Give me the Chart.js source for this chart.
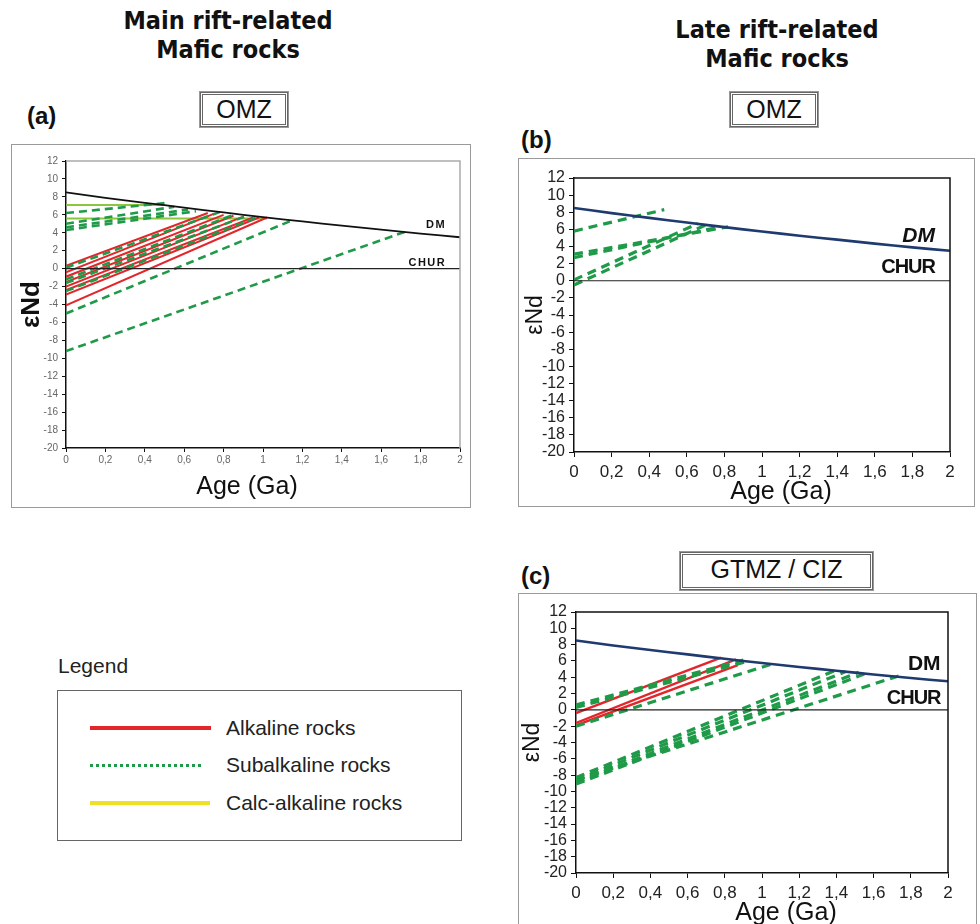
<!DOCTYPE html>
<html>
<head>
<meta charset="utf-8">
<script src="https://cdn.jsdelivr.net/npm/chart.js@4.4.1/dist/chart.umd.min.js"></script>
<style>
  body { margin: 0; background: #fff; width: 980px; height: 924px; position: relative; overflow: hidden; font-family: 'Liberation Sans', Arial, sans-serif; }
  .abs { position: absolute; }
  .head { font-family: 'Liberation Sans Narrow', 'DejaVu Sans Condensed', 'Liberation Sans', sans-serif; font-weight: bold; font-size: 25px; text-align: center; line-height: 29px; color: #111; }
  .tag { font-family: 'Liberation Sans Narrow', 'Liberation Sans', sans-serif; font-weight: bold; font-size: 24px; color: #111; }
  .zone { border: 3px double #666; outline: 1px solid #999; text-align: center; font-family: 'Liberation Sans Narrow', 'Liberation Sans', sans-serif; font-size: 25px; line-height: 29px; color: #111; box-sizing: border-box; }
  canvas.panel { position: absolute; outline: 1.5px solid #9a9a9a; outline-offset: -1px; }
  .leg-line { position: absolute; height: 0; }
  .leg-text { position: absolute; font-size: 21px; color: #222; line-height: 24px; }
</style>
</head>
<body>

<div class="abs head" style="left:118px; top:6px; width:220px;">Main rift-related<br>Mafic rocks</div>
<div class="abs head" style="left:667px; top:15px; width:220px;">Late rift-related<br>Mafic rocks</div>

<div class="abs tag" style="left:27px; top:102px;">(a)</div>
<div class="abs tag" style="left:521px; top:126px;">(b)</div>
<div class="abs tag" style="left:521px; top:562px;">(c)</div>

<div class="abs zone" style="left:200px; top:92px; width:88px; height:35px;">OMZ</div>
<div class="abs zone" style="left:730px; top:92px; width:88px; height:35px;">OMZ</div>
<div class="abs zone" style="left:680px; top:552px; width:193px; height:38px;">GTMZ / CIZ</div>

<canvas class="panel" id="chartA" width="460" height="364" style="left:11px; top:144px;"></canvas>
<canvas class="panel" id="chartB" width="457" height="349" style="left:518px; top:158px;"></canvas>
<canvas class="panel" id="chartC" width="459" height="340" style="left:518px; top:593px;"></canvas>

<div class="abs" style="left:58px; top:654px; font-size:21px; color:#222;">Legend</div>
<div class="abs" style="left:57px; top:690px; width:405px; height:151px; border:1.5px solid #666; box-sizing:border-box;"></div>
<div class="leg-line" style="left:90px; top:726px; width:121px; border-top:4px solid #e3262b;"></div>
<div class="leg-text" style="left:226px; top:716px;">Alkaline rocks</div>
<div class="leg-line" style="left:90px; top:764px; width:111px; border-top:3px dotted #1f9a48;"></div>
<div class="leg-text" style="left:226px; top:753px;">Subalkaline rocks</div>
<div class="leg-line" style="left:90px; top:801px; width:120px; border-top:4px solid #f0e024;"></div>
<div class="leg-text" style="left:226px; top:791px;">Calc-alkaline rocks</div>

<script>
// age axis (Ga) and depleted-mantle evolution curve
const ages = [0, 0.2, 0.4, 0.6, 0.8, 1, 1.2, 1.4, 1.6, 1.8, 2];
const dmEpsNd = [8.5, 7.9, 7.34, 6.8, 6.26, 5.75, 5.26, 4.8, 4.34, 3.9, 3.5];
const churEpsNd = [0, 0];
const churAges = [0, 2];

// Nd evolution segments: [age0, eNd0, age1, eNd1]
// (a) main rift-related, OMZ
const alkalineA = [
  [0, 0.3, 0.72, 6.2],
  [0, -0.4, 0.75, 6.1],
  [0, -0.9, 0.8, 6.0],
  [0, -1.5, 0.85, 5.9],
  [0, -2.0, 0.9, 5.8],
  [0, -2.4, 0.95, 5.7],
  [0, -2.9, 0.98, 5.7],
  [0, -4.1, 1.02, 5.7]
];
const subalkalineA = [
  [0, 6.2, 0.5, 7.3],
  [0, 5.0, 0.55, 6.9],
  [0, 4.6, 0.62, 6.6],
  [0, 4.3, 0.66, 6.4],
  [0, 0.1, 0.78, 6.3],
  [0, -1.2, 0.85, 6.0],
  [0, -1.6, 0.92, 5.9],
  [0, -2.5, 0.98, 5.8],
  [0, -5.0, 1.15, 5.4],
  [0, -9.2, 1.72, 4.1]
];
const calcAlkalineA = [
  [0, 7.1, 0.5, 7.1],
  [0, 5.6, 1.02, 5.6]
];

// (b) late rift-related, OMZ
const subalkalineB = [
  [0, 5.8, 0.48, 8.3],
  [0, 3.1, 0.82, 6.3],
  [0, 2.7, 0.78, 6.3],
  [0, 0.1, 0.66, 6.7],
  [0, -0.5, 0.7, 6.5]
];

// (c) GTMZ / CIZ
const alkalineC = [
  [0, -0.4, 0.78, 6.4],
  [0, -1.6, 0.86, 6.2],
  [0, -1.9, 0.87, 5.5]
];
const subalkalineC = [
  [0, 0.3, 0.93, 6.0],
  [0, 0.6, 0.9, 6.1],
  [0, -2.0, 1.05, 5.6],
  [0, -8.3, 1.4, 4.9],
  [0, -8.6, 1.45, 4.7],
  [0, -8.9, 1.52, 4.6],
  [0, -9.1, 1.55, 4.4],
  [0, -8.6, 1.74, 4.2]
];

const RED = '#e3262b';
const GREEN = '#1f9a48';
const LIGHT_GREEN = '#8cc63f';

function segs(list, color, width, dash) {
  return list.map(s => ({
    data: [{x: s[0], y: s[1]}, {x: s[2], y: s[3]}],
    borderColor: color,
    borderWidth: width,
    borderDash: dash || [],
    showLine: true,
    pointRadius: 0,
    fill: false
  }));
}

function refLines(dmColor, dmWidth) {
  return [
    {
      data: churAges.map((a, i) => ({x: a, y: churEpsNd[i]})),
      borderColor: '#222', borderWidth: 1.2, showLine: true, pointRadius: 0
    },
    {
      data: ages.map((a, i) => ({x: a, y: dmEpsNd[i]})),
      borderColor: dmColor, borderWidth: dmWidth, showLine: true, pointRadius: 0,
      tension: 0.3
    }
  ];
}

const comma = v => String(Math.round(v * 10) / 10).replace('.', ',');

// frame around plot area, reservoir labels and the age title
function framePlugin(o) {
  return {
    id: 'frame',
    afterDatasetsDraw(chart) {
      const {ctx, chartArea: a, scales} = chart;
      ctx.save();
      ctx.strokeStyle = o.frameColor;
      ctx.lineWidth = 1.5;
      ctx.beginPath();
      ctx.moveTo(a.left, a.top);
      ctx.lineTo(a.right, a.top);
      ctx.lineTo(a.right, a.bottom);
      ctx.stroke();
      ctx.fillStyle = '#111';
      ctx.textAlign = 'right';
      ctx.textBaseline = 'middle';
      o.labels.forEach(l => {
        ctx.font = l.font;
        if ('letterSpacing' in ctx) ctx.letterSpacing = l.spacing || '0px';
        ctx.fillText(l.text, scales.x.getPixelForValue(l.x), scales.y.getPixelForValue(l.y));
      });
      if ('letterSpacing' in ctx) ctx.letterSpacing = '0px';
      ctx.textAlign = 'center';
      ctx.font = '25px Liberation Sans, Arial';
      ctx.fillText('Age (Ga)', (a.left + a.right) / 2 + o.titleDx, a.bottom + o.titleDy);
      ctx.restore();
    }
  };
}

function makeChart(id, datasets, o) {
  return new Chart(document.getElementById(id), {
    type: 'scatter',
    data: {datasets: datasets},
    options: {
      responsive: false,
      animation: false,
      layout: {padding: {top: o.top, right: o.right, left: 0, bottom: 0}},
      plugins: {legend: {display: false}, tooltip: {enabled: false}},
      scales: {
        x: {
          type: 'linear', min: 0, max: 2,
          afterFit: s => { s.height = o.xHeight; },
          border: {display: true, color: '#111', width: 1.5},
          grid: {drawOnChartArea: false, drawTicks: true, tickLength: o.tickLen, color: '#111'},
          ticks: {stepSize: 0.2, autoSkip: false, maxRotation: 0, padding: o.xPad, color: o.tickColor,
                  font: {size: o.xTickSize, family: 'Liberation Sans, Arial'}, callback: comma},
          title: {display: false}
        },
        y: {
          type: 'linear', min: -20, max: 12,
          afterFit: s => { s.width = o.yWidth; },
          border: {display: true, color: '#111', width: 1.5},
          grid: {drawOnChartArea: false, drawTicks: true, tickLength: o.tickLen, color: '#111'},
          ticks: {stepSize: 2, autoSkip: false, padding: o.yPad, color: o.tickColor,
                  font: {size: o.yTickSize, family: 'Liberation Sans, Arial'}},
          title: {display: true, text: 'εNd', color: '#111',
                  font: {size: o.yTitleSize, weight: o.yTitleWeight, family: 'Liberation Sans, Arial', lineHeight: 1},
                  padding: {top: o.yTitlePad, bottom: 0}}
        }
      }
    },
    plugins: [framePlugin(o)]
  });
}

// (a)
makeChart('chartA', [
  ...refLines('#111', 1.8),
  ...segs(subalkalineA, GREEN, 2.6, [8, 5]),
  ...segs(alkalineA, RED, 2),
  ...segs(calcAlkalineA, LIGHT_GREEN, 2)
], {
  top: 17, right: 11, xHeight: 60, yWidth: 55, tickLen: 4, xPad: 2, yPad: 4,
  tickColor: '#666', xTickSize: 10, yTickSize: 10, titleDx: -16, titleDy: 39,
  yTitleSize: 26, yTitleWeight: 'bold', yTitlePad: 8, frameColor: '#aaa',
  labels: [
    {text: 'DM', x: 1.93, y: 4.9, font: 'bold 11px Liberation Sans, Arial', spacing: '1.5px'},
    {text: 'CHUR', x: 1.93, y: 0.6, font: 'bold 11px Liberation Sans, Arial', spacing: '1.5px'}
  ]
});

// (b)
makeChart('chartB', [
  ...refLines('#1f3a6e', 2.6),
  ...segs(subalkalineB, GREEN, 3.2, [9, 6])
], {
  top: 20, right: 25, xHeight: 55, yWidth: 56, tickLen: 5, xPad: 5, yPad: 4,
  tickColor: '#222', xTickSize: 17, yTickSize: 16, titleDx: 19, titleDy: 40,
  yTitleSize: 23, yTitleWeight: 'normal', yTitlePad: 6, frameColor: '#111',
  labels: [
    {text: 'DM', x: 1.92, y: 5.2, font: 'italic bold 21px Liberation Sans, Arial'},
    {text: 'CHUR', x: 1.92, y: 1.6, font: 'bold 20px Liberation Sans, Arial', spacing: '-1px'}
  ]
});

// (c)
makeChart('chartC', [
  ...refLines('#1f3a6e', 2.6),
  ...segs(subalkalineC, GREEN, 3.2, [9, 6]),
  ...segs(alkalineC, RED, 2.4)
], {
  top: 19, right: 29, xHeight: 60, yWidth: 58, tickLen: 5, xPad: 5, yPad: 4,
  tickColor: '#222', xTickSize: 17, yTickSize: 16, titleDx: 24, titleDy: 40,
  yTitleSize: 23, yTitleWeight: 'normal', yTitlePad: 3, frameColor: '#111',
  labels: [
    {text: 'DM', x: 1.96, y: 5.6, font: 'bold 21px Liberation Sans, Arial'},
    {text: 'CHUR', x: 1.96, y: 1.4, font: 'bold 20px Liberation Sans, Arial', spacing: '-1px'}
  ]
});
</script>
</body>
</html>
